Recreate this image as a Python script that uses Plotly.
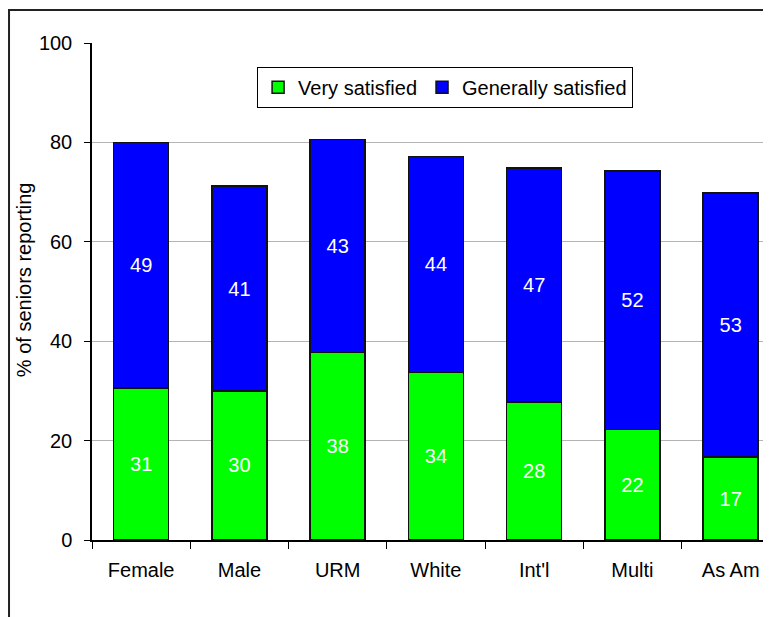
import plotly.graph_objects as go

groups = ["Female", "Male", "URM", "White", "Int'l", "Multi", "As Am"]
very_satisfied = [30.6, 30.0, 37.7, 33.7, 27.8, 22.2, 16.7]
generally_satisfied = [49.4, 41.2, 42.9, 43.5, 47.0, 52.0, 53.1]

FONT = "Liberation Sans, Arial, sans-serif"

fig = go.Figure()
fig.add_trace(go.Bar(
    x=groups, y=very_satisfied, name="Very satisfied",
    marker=dict(color="#00ff00", line=dict(color="#111111", width=1.5)),
    text=[f"{v:.0f}" for v in very_satisfied],
    textposition="inside", insidetextanchor="middle",
    textfont=dict(color="white", size=20, family=FONT),
))
fig.add_trace(go.Bar(
    x=groups, y=generally_satisfied, name="Generally satisfied",
    marker=dict(color="#0000ff", line=dict(color="#111111", width=1.5)),
    text=[f"{v:.0f}" for v in generally_satisfied],
    textposition="inside", insidetextanchor="middle",
    textfont=dict(color="white", size=20, family=FONT),
))

# page body has an 8px margin, so the figure is shifted right/down by 8px
fig.update_layout(
    barmode="stack",
    bargap=0.44,
    width=763, height=609,
    margin=dict(l=84, r=0, t=35, b=77),
    plot_bgcolor="white", paper_bgcolor="white",
    font=dict(family=FONT, size=20, color="black"),
    uniformtext=dict(mode="show", minsize=20),
    legend=dict(
        orientation="h", x=0.52, y=0.911, xanchor="center", yanchor="middle",
        bordercolor="black", borderwidth=1, bgcolor="white",
        font=dict(size=20), itemwidth=30, traceorder="normal",
    ),
    xaxis=dict(
        range=[-0.5, 6.41], showline=True, linecolor="black", linewidth=1.5,
        ticks="outside", tickson="boundaries", ticklen=7, tickcolor="black",
        showgrid=False, ticklabelstandoff=11,
    ),
    yaxis=dict(
        range=[0, 100], dtick=20, showline=True, linecolor="black", linewidth=1.5,
        ticks="outside", ticklen=6, tickcolor="black",
        gridcolor="#b4b4b4", gridwidth=1, zeroline=False, ticklabelstandoff=8,
    ),
    annotations=[dict(
        text="% of seniors reporting", textangle=-90, showarrow=False,
        xref="paper", yref="paper", x=-0.100, y=0.523,
        xanchor="center", yanchor="middle", font=dict(size=20),
    )],
    shapes=[dict(
        type="rect", xref="paper", yref="paper",
        x0=-0.1222, x1=1.2, y0=-0.3, y1=1.0664,
        line=dict(color="#222222", width=2), layer="below",
    )],
)

fig.write_html("out.html")
